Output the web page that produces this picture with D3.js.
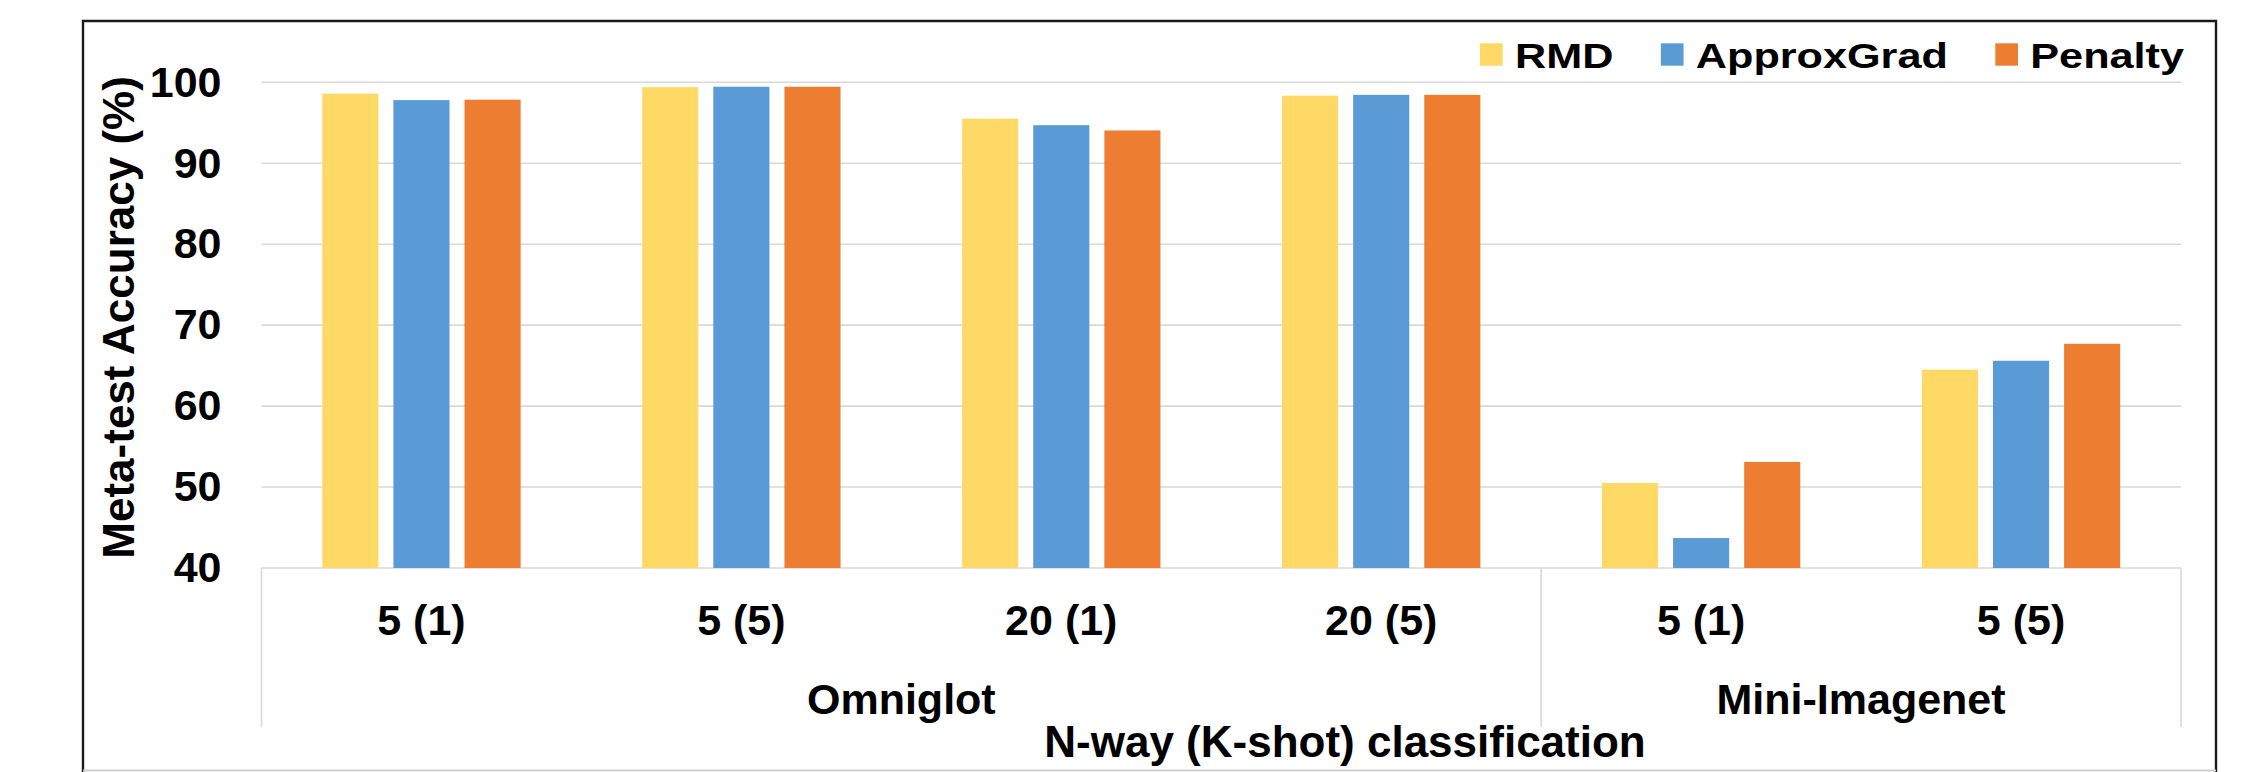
<!DOCTYPE html>
<html>
<head>
<meta charset="utf-8">
<script src="https://cdn.jsdelivr.net/npm/d3@7"></script>
<style>
  html, body { margin: 0; padding: 0; background: #ffffff; }
  svg { display: block; }
  text { font-family: "Liberation Sans", Arial, sans-serif; font-weight: bold; fill: #000; }
</style>
</head>
<body>
<svg id="chart" width="2266" height="772"></svg>
<script>
// Meta-test accuracy (%) per N-way (K-shot) setting
const categories = ["5 (1)", "5 (5)", "20 (1)", "20 (5)", "5 (1)", "5 (5)"];
const datasets   = ["Omniglot", "Omniglot", "Omniglot", "Omniglot", "Mini-Imagenet", "Mini-Imagenet"];
const seriesNames = ["RMD", "ApproxGrad", "Penalty"];
const rmd        = [98.6, 99.4, 95.5, 98.35, 50.5, 64.5];
const approxGrad = [97.8, 99.45, 94.7, 98.45, 43.7, 65.6];
const penalty    = [97.85, 99.45, 94.05, 98.45, 53.1, 67.7];
const yTicks = [40, 50, 60, 70, 80, 90, 100];
const colors = ["#FFD966", "#5B9BD5", "#ED7D31"];

const seriesValues = [rmd, approxGrad, penalty];

const svg = d3.select("#chart");
const plot = { left: 261.5, right: 2181, top: 82.3, bottom: 568 };
const gridColor = "#d9d9d9";

// outer frame
svg.append("path")
  .attr("d", "M83,772 L83,21 L2216,21 L2216,772")
  .attr("fill", "none").attr("stroke", "#1a1a1a").attr("stroke-width", 2.4);
svg.append("line")
  .attr("x1", 83).attr("x2", 2216).attr("y1", 770.5).attr("y2", 770.5)
  .attr("stroke", "#cfcfcf").attr("stroke-width", 2);

const x0 = d3.scaleBand().domain(d3.range(categories.length)).range([plot.left, plot.right]);
const x1 = d3.scaleBand().domain(seriesNames)
  .range([x0.bandwidth() * 0.19, x0.bandwidth() * 0.81]).paddingInner(0.211);
const y = d3.scaleLinear().domain([40, 100]).range([plot.bottom, plot.top]);

// horizontal gridlines
svg.append("g").selectAll("line").data(yTicks).join("line")
  .attr("x1", plot.left).attr("x2", plot.right)
  .attr("y1", d => y(d)).attr("y2", d => y(d))
  .attr("stroke", gridColor).attr("stroke-width", 1.6);

// y axis labels
const yAxis = svg.append("g")
  .attr("transform", `translate(${plot.left},0)`)
  .call(d3.axisLeft(y).tickValues(yTicks).tickSize(0).tickPadding(40));
yAxis.select(".domain").remove();
yAxis.selectAll("text")
  .style("font-family", '"Liberation Sans", Arial, sans-serif')
  .style("font-weight", "bold").style("font-size", "43px").attr("fill", "#000");

// bars
const groupsG = svg.append("g").selectAll("g").data(categories).join("g")
  .attr("transform", (d, i) => `translate(${x0(i)},0)`);
groupsG.selectAll("rect")
  .data((d, i) => seriesNames.map((s, k) => ({ s, k, v: seriesValues[k][i] })))
  .join("rect")
  .attr("x", d => x1(d.s))
  .attr("y", d => y(d.v))
  .attr("width", x1.bandwidth())
  .attr("height", d => y(40) - y(d.v))
  .attr("fill", d => colors[d.k]);

// category axis box
const boxBottom = 727;
const spans = [];
datasets.forEach((g, i) => {
  const last = spans[spans.length - 1];
  if (last && last.name === g) last.end = i; else spans.push({ name: g, start: i, end: i });
});
const dividers = [plot.left, ...spans.map(s => x0(s.end) + x0.bandwidth())];
svg.append("g").selectAll("line").data(dividers).join("line")
  .attr("x1", d => d).attr("x2", d => d)
  .attr("y1", plot.bottom).attr("y2", boxBottom)
  .attr("stroke", gridColor).attr("stroke-width", 1.6);

// category labels
svg.append("g").selectAll("text").data(categories).join("text")
  .attr("x", (d, i) => x0(i) + x0.bandwidth() / 2)
  .attr("y", 635)
  .attr("text-anchor", "middle")
  .style("font-size", "43px")
  .text(d => d);

// dataset labels
svg.append("g").selectAll("text").data(spans).join("text")
  .attr("x", d => (x0(d.start) + x0(d.end) + x0.bandwidth()) / 2)
  .attr("y", 714)
  .attr("text-anchor", "middle")
  .style("font-size", "43px")
  .text(d => d.name);

// axis titles
svg.append("text")
  .attr("x", 1345).attr("y", 757)
  .attr("text-anchor", "middle")
  .style("font-size", "44px")
  .text("N-way (K-shot) classification");

svg.append("text")
  .attr("transform", "translate(133.5,317.4) rotate(-90)")
  .attr("text-anchor", "middle")
  .style("font-size", "44px")
  .text("Meta-test Accuracy (%)");

// legend
const legend = svg.append("g");
let lx = 1480;
seriesNames.forEach((name, k) => {
  legend.append("rect")
    .attr("x", lx).attr("y", 43.3).attr("width", 22.7).attr("height", 22.4)
    .attr("fill", colors[k]);
  const tg = legend.append("g")
    .attr("transform", `translate(${lx + 35},67.7) scale(1.2,1)`);
  const t = tg.append("text").style("font-size", "36px").text(name);
  const w = t.node().getComputedTextLength() * 1.2;
  lx += 35 + w + 47.5;
});
</script>
</body>
</html>
